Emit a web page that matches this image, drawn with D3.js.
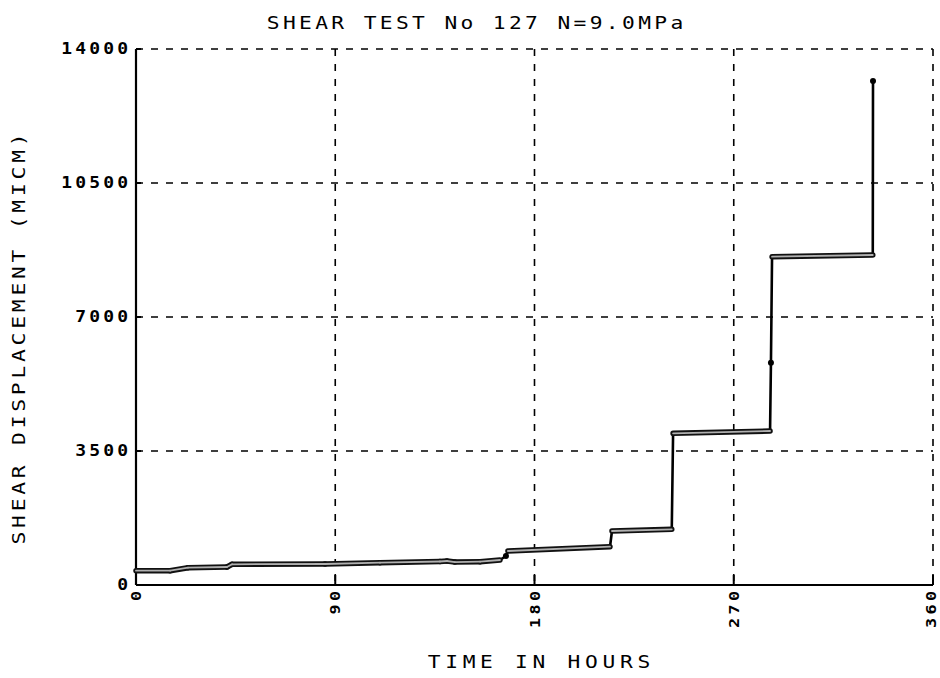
<!DOCTYPE html>
<html>
<head>
<meta charset="utf-8">
<script src="https://cdn.jsdelivr.net/npm/d3@7"></script>
<style>
  html, body { margin: 0; padding: 0; background: #fff; }
  svg { display: block; }
  text { font-family: "DejaVu Sans Mono", "Liberation Mono", monospace; fill: #000; }
</style>
</head>
<body>
<svg id="chart" width="940" height="678"></svg>
<script>
// Shear test record: time (hours) against shear displacement (micrometres)
const hours = [0, 15.4, 23.5, 41.1, 43.4, 85.4, 110.2, 137.3, 140.5, 144, 155.4, 164.4, 167.1, 168,
               214.1, 215, 242, 242.6, 286.4, 286.8, 287.3, 332.8, 332.9];
const displacement = [374, 374, 452, 470, 541, 549, 582, 614, 627, 600, 609, 653, 757, 888,
                      1000, 1410, 1455, 3962, 4022, 5806, 8575, 8620, 13164];

const xTicks = [0, 90, 180, 270, 360];
const yTicks = [0, 3500, 7000, 10500, 14000];
const xTickLabels = ["0", "90", "180", "270", "360"];
const yTickLabels = ["0", "3500", "7000", "10500", "14000"];

const titleText = "SHEAR TEST No 127 N=9.0MPa";
const xTitle = "TIME IN HOURS";
const yTitle = "SHEAR DISPLACEMENT (MICM)";

const svg = d3.select("#chart");
const plotL = 136, plotR = 933, plotT = 49, plotB = 585;

const x = d3.scaleLinear().domain([0, 360]).range([plotL, plotR]);
const y = d3.scaleLinear().domain([0, 14000]).range([plotB, plotT]);

const pts = hours.map((h, i) => ({ t: h, v: displacement[i] }));

// Plotter-style lettering: monospace glyphs stretched wide, with a fixed pitch per character.
// Letter-spacing trails the last glyph, so anchors are shifted to keep the ink aligned.
function plotterText(parent, str, opts) {
  const { px, py, rotate = false, size, bold = false, stretch, pitch, anchor = "middle", dy = 0 } = opts;
  const adv = 0.602 * size;                     // monospace advance, local units
  const ls = pitch / stretch - adv;             // spacing that yields the wanted pitch on screen
  const shift = anchor === "middle" ? ls / 2 : anchor === "end" ? ls : 0;
  return parent.append("text")
    .attr("transform", `translate(${px},${py})${rotate ? " rotate(-90)" : ""} scale(${stretch},1)`)
    .attr("x", shift)
    .attr("dy", dy)
    .attr("text-anchor", anchor)
    .attr("font-size", size)
    .attr("font-weight", bold ? "bold" : "normal")
    .attr("letter-spacing", ls)
    .text(str);
}

// dashed grid, including the top and right frame
const dash = "7,8";
svg.append("g").selectAll("line")
  .data(xTicks.filter(d => d > 0))
  .join("line")
  .attr("x1", d => x(d)).attr("x2", d => x(d))
  .attr("y1", y(14000)).attr("y2", y(0))
  .attr("stroke", "#000").attr("stroke-width", 1.6)
  .attr("stroke-dasharray", dash);

svg.append("g").selectAll("line")
  .data(yTicks.filter(d => d > 0))
  .join("line")
  .attr("x1", x(0)).attr("x2", x(360))
  .attr("y1", d => y(d)).attr("y2", d => y(d))
  .attr("stroke", "#000").attr("stroke-width", 1.5)
  .attr("stroke-dasharray", dash);

// solid left and bottom axes
svg.append("line")
  .attr("x1", x(0)).attr("x2", x(0)).attr("y1", y(14000)).attr("y2", y(0))
  .attr("stroke", "#000").attr("stroke-width", 2.2);
svg.append("line")
  .attr("x1", x(0)).attr("x2", x(360)).attr("y1", y(0)).attr("y2", y(0))
  .attr("stroke", "#000").attr("stroke-width", 2);

// short solid ticks on the axes
svg.append("g").selectAll("line")
  .data(xTicks.slice(1))
  .join("line")
  .attr("x1", d => x(d)).attr("x2", d => x(d))
  .attr("y1", y(0)).attr("y2", y(0) - 10)
  .attr("stroke", "#000").attr("stroke-width", 2);
svg.append("g").selectAll("line")
  .data(yTicks)
  .join("line")
  .attr("x1", x(0)).attr("x2", x(0) + 5)
  .attr("y1", d => y(d)).attr("y2", d => y(d))
  .attr("stroke", "#000").attr("stroke-width", 2);

// tick labels
const yLab = svg.append("g");
yTicks.forEach((d, i) => {
  plotterText(yLab, yTickLabels[i], {
    px: x(0) - 8, py: y(d), size: 15, bold: true, stretch: 1.2, pitch: 14, anchor: "end", dy: "0.36em"
  });
});

const xLab = svg.append("g");
xTicks.forEach((d, i) => {
  plotterText(xLab, xTickLabels[i], {
    px: x(d) - (d === 360 ? 2 : 0), py: y(0) + 6, rotate: true, size: 14, bold: true,
    stretch: 1.2, pitch: 13.5, anchor: "end", dy: "0.36em"
  });
});

// titles
plotterText(svg, titleText, { px: 475, py: 29, size: 17, stretch: 1.25, pitch: 16.15 });
plotterText(svg, xTitle, { px: 539, py: 668, size: 17, stretch: 1.25, pitch: 17.5 });
plotterText(svg, yTitle, { px: 25, py: 339, rotate: true, size: 17, stretch: 1.25, pitch: 16.6 });

// data trace: slow creep drawn as a hollow thick stroke, sudden slips as thin black risers
const segs = d3.pairs(pts).map(([a, b]) => ({ a, b, slip: (b.t - a.t) < 3 && (b.v - a.v) > 80 }));
const creep = segs.filter(s => !s.slip);
const slips = segs.filter(s => s.slip);

const segLine = s => d3.line().x(p => x(p.t)).y(p => y(p.v))([s.a, s.b]);

svg.append("g").selectAll("path")
  .data(slips)
  .join("path")
  .attr("d", segLine)
  .attr("fill", "none")
  .attr("stroke", "#000")
  .attr("stroke-width", 2.6)
  .attr("stroke-linecap", "round");

const creepG = svg.append("g");
creepG.selectAll("path.outer")
  .data(creep)
  .join("path")
  .attr("class", "outer")
  .attr("d", segLine)
  .attr("fill", "none")
  .attr("stroke", "#111")
  .attr("stroke-width", 5.5)
  .attr("stroke-linecap", "round")
  .attr("stroke-linejoin", "round");
creepG.selectAll("path.inner")
  .data(creep)
  .join("path")
  .attr("class", "inner")
  .attr("d", segLine)
  .attr("fill", "none")
  .attr("stroke", "#b0b0b0")
  .attr("stroke-width", 1.8)
  .attr("stroke-linecap", "round")
  .attr("stroke-linejoin", "round");

// readings taken mid-slip and at the end of the record
const marked = pts.filter((p, i) => {
  if (i === pts.length - 1) return true;
  if (i === 0) return false;
  return segs[i - 1].slip && segs[i].slip;
});
svg.append("g").selectAll("circle")
  .data(marked)
  .join("circle")
  .attr("cx", p => x(p.t)).attr("cy", p => y(p.v))
  .attr("r", 3)
  .attr("fill", "#000");
</script>
</body>
</html>
